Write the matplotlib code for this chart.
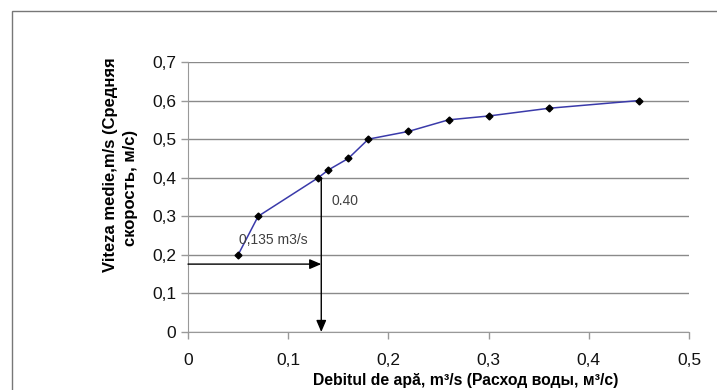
import matplotlib
matplotlib.use("Agg")
import matplotlib.pyplot as plt
from matplotlib.patches import Rectangle

plt.rcParams['font.family'] = ['Liberation Sans', 'DejaVu Sans']

debit = [0.05, 0.07, 0.13, 0.14, 0.16, 0.18, 0.22, 0.26, 0.30, 0.36, 0.45]
viteza = [0.20, 0.30, 0.40, 0.42, 0.45, 0.50, 0.52, 0.55, 0.56, 0.58, 0.60]
x_ticks = [0, 0.1, 0.2, 0.3, 0.4, 0.5]
x_tick_labels = ['0', '0,1', '0,2', '0,3', '0,4', '0,5']
y_ticks = [0, 0.1, 0.2, 0.3, 0.4, 0.5, 0.6, 0.7]
y_tick_labels = ['0', '0,1', '0,2', '0,3', '0,4', '0,5', '0,6', '0,7']
q_read = 0.133
v_read = 0.40
v_start = 0.176

fig = plt.figure(figsize=(7.17, 3.90), dpi=100)
fig.patches.append(Rectangle((12/717, -0.1), 1.2, 1 - 11/390 + 0.1, transform=fig.transFigure,
                             fill=False, edgecolor='#777777', linewidth=1.0))
ax = fig.add_axes([188/717, 1 - 332/390, (689 - 188)/717, (332 - 62)/390])

ax.set_xlim(0, 0.5)
ax.set_ylim(0, 0.7)
ax.set_xticks(x_ticks)
ax.set_xticklabels(x_tick_labels)
ax.set_yticks(y_ticks)
ax.set_yticklabels(y_tick_labels)
ax.tick_params(axis='both', labelsize=12.5, colors='#999999', labelcolor='#111111', length=5, width=1, direction='out')
ax.tick_params(axis='x', pad=10)
for s in ['top', 'right']:
    ax.spines[s].set_visible(False)
for s in ['left', 'bottom']:
    ax.spines[s].set_color('#999999')
ax.grid(axis='y', color='#8a8a8a', linewidth=1.0)
ax.set_axisbelow(True)

ax.plot(debit, viteza, color='#3a3aaa', linewidth=1.1, marker='D', markersize=3.5,
        markerfacecolor='black', markeredgecolor='black', zorder=3)

astyle = '-|>,head_length=0.7,head_width=0.3'
ax.annotate('', xy=(q_read, v_start), xytext=(0, v_start),
            arrowprops=dict(arrowstyle=astyle, color='black', lw=1.0, mutation_scale=10,
                            shrinkA=0, shrinkB=0))
ax.annotate('', xy=(q_read, 0), xytext=(q_read, v_read),
            arrowprops=dict(arrowstyle=astyle, color='black', lw=1.0, mutation_scale=10,
                            shrinkA=0, shrinkB=0))
ax.text(0.051, 0.228, '0,135 m3/s', fontsize=10, color='#404040')
ax.text(0.143, 0.33, '0.40', fontsize=10, color='#404040')

fig.text(111/717, 1 - 165/390, 'Viteza medie,m/s (Средняя', rotation=90, fontsize=12,
         fontweight='bold', ha='center', va='center')
fig.text(130/717, 1 - 188/390, 'скорость, м/с)', rotation=90, fontsize=12,
         fontweight='bold', ha='center', va='center')
fig.text(466/717, 1 - 380/390, 'Debitul de apă, m³/s (Расход воды, м³/с)', fontsize=11.3,
         fontweight='bold', ha='center', va='center')

fig.savefig('out.png', dpi=100)
